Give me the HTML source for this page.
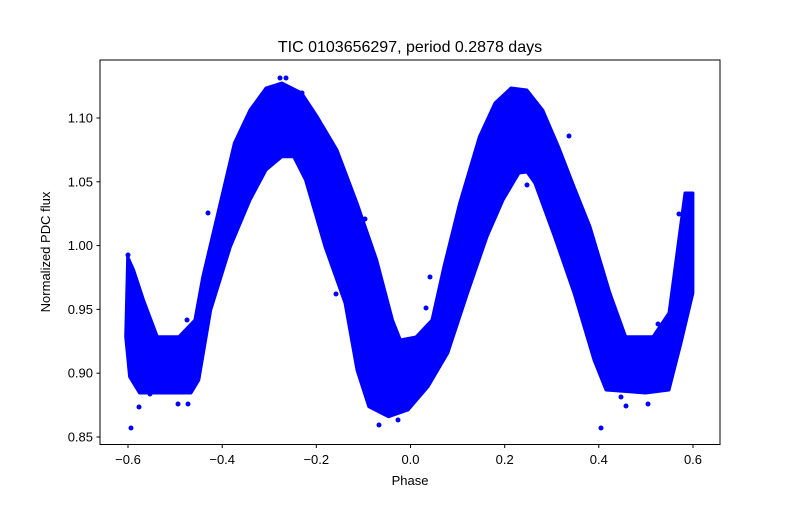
<!DOCTYPE html>
<html><head><meta charset="utf-8"><style>
html,body{margin:0;padding:0;background:#fff;}
text{font-family:"Liberation Sans","DejaVu Sans",sans-serif;}
</style></head><body>
<svg width="800" height="500" viewBox="0 0 800 500" xmlns="http://www.w3.org/2000/svg">
<rect width="800" height="500" fill="#fff"/>
<polygon fill="#0000ff" stroke="#0000ff" stroke-width="3" stroke-linejoin="round" points="
127.7,256.7 133.6,270 143.5,300 157.3,336.7 179,336.7 194.9,320 202.8,276.7 218.6,210 234.4,143 250,110 266,88 281.8,83 301.6,93 317.4,117 337,150 357,203 376.7,260 392.5,320 400.4,340 416,337 432,320 443.9,266.7 459.7,203 479.4,136.7 495,103 511,88 526.9,90 542.7,110 558.5,146.7 574,186.7 590,226.7 609.9,293 625.7,336.7 653,336.7 669,313 685,193 692.9,193
692.9,293 681,343 669,390 645.5,393 606,390 594,360 574,293 554.5,236.7 534.8,183 527,172 519,173 503,200 487,236.7 467.6,293 447.8,353 428,386.7 408,410 388.5,416.7 368.8,406.7 357,370 345,303 325,246.7 305.5,180 293.7,156.7 281.8,156.7 266,170 250,200 230.4,246.7 210.7,310 198.8,380 191,393 139.5,393 129.6,376.7 125.7,336.7"/>
<g fill="#0000ff">
<circle cx="131" cy="428" r="2.5"/><circle cx="139" cy="407" r="2.5"/><circle cx="150" cy="394" r="2.5"/>
<circle cx="178" cy="404" r="2.5"/><circle cx="187" cy="320" r="2.5"/><circle cx="208" cy="213" r="2.5"/>
<circle cx="280" cy="78" r="2.5"/><circle cx="286" cy="78" r="2.5"/><circle cx="302" cy="93" r="2.5"/>
<circle cx="336" cy="294" r="2.5"/><circle cx="365" cy="219" r="2.5"/><circle cx="379" cy="425" r="2.5"/>
<circle cx="398" cy="420" r="2.5"/><circle cx="430" cy="277" r="2.5"/><circle cx="426" cy="308" r="2.5"/>
<circle cx="527" cy="185" r="2.5"/><circle cx="569" cy="136" r="2.5"/><circle cx="572" cy="264" r="2.5"/>
<circle cx="601" cy="428" r="2.5"/><circle cx="621" cy="397" r="2.5"/><circle cx="648" cy="404" r="2.5"/>
<circle cx="658" cy="324" r="2.5"/><circle cx="692" cy="194" r="2.5"/><circle cx="128" cy="255" r="2.5"/>
<circle cx="188" cy="404" r="2.5"/><circle cx="626" cy="406" r="2.5"/><circle cx="679" cy="214" r="2.5"/>
</g>
<rect x="100" y="60" width="620" height="384.5" fill="none" stroke="#000" stroke-width="1"/>
<g stroke="#000" stroke-width="1">
<line x1="128" y1="444.5" x2="128" y2="448"/><line x1="222.2" y1="444.5" x2="222.2" y2="448"/>
<line x1="316.3" y1="444.5" x2="316.3" y2="448"/><line x1="410.5" y1="444.5" x2="410.5" y2="448"/>
<line x1="504.7" y1="444.5" x2="504.7" y2="448"/><line x1="598.8" y1="444.5" x2="598.8" y2="448"/>
<line x1="693" y1="444.5" x2="693" y2="448"/>
<line x1="96.5" y1="118" x2="100" y2="118"/><line x1="96.5" y1="181.8" x2="100" y2="181.8"/>
<line x1="96.5" y1="245.6" x2="100" y2="245.6"/><line x1="96.5" y1="309.4" x2="100" y2="309.4"/>
<line x1="96.5" y1="373.2" x2="100" y2="373.2"/><line x1="96.5" y1="437" x2="100" y2="437"/>
</g>
<g font-size="13" fill="#000" text-anchor="middle">
<text x="128" y="464">−0.6</text><text x="222.2" y="464">−0.4</text><text x="316.3" y="464">−0.2</text>
<text x="410.5" y="464">0.0</text><text x="504.7" y="464">0.2</text><text x="598.8" y="464">0.4</text><text x="693" y="464">0.6</text>
</g>
<g font-size="13" fill="#000" text-anchor="end">
<text x="93" y="122.5">1.10</text><text x="93" y="186.3">1.05</text><text x="93" y="250.1">1.00</text>
<text x="93" y="313.9">0.95</text><text x="93" y="377.7">0.90</text><text x="93" y="441.5">0.85</text>
</g>
<text x="410" y="485" font-size="13" text-anchor="middle">Phase</text>
<text transform="translate(50,252) rotate(-90)" font-size="13" text-anchor="middle">Normalized PDC flux</text>
<text x="410" y="52" font-size="16" text-anchor="middle">TIC 0103656297, period 0.2878 days</text>
</svg>
</body></html>
